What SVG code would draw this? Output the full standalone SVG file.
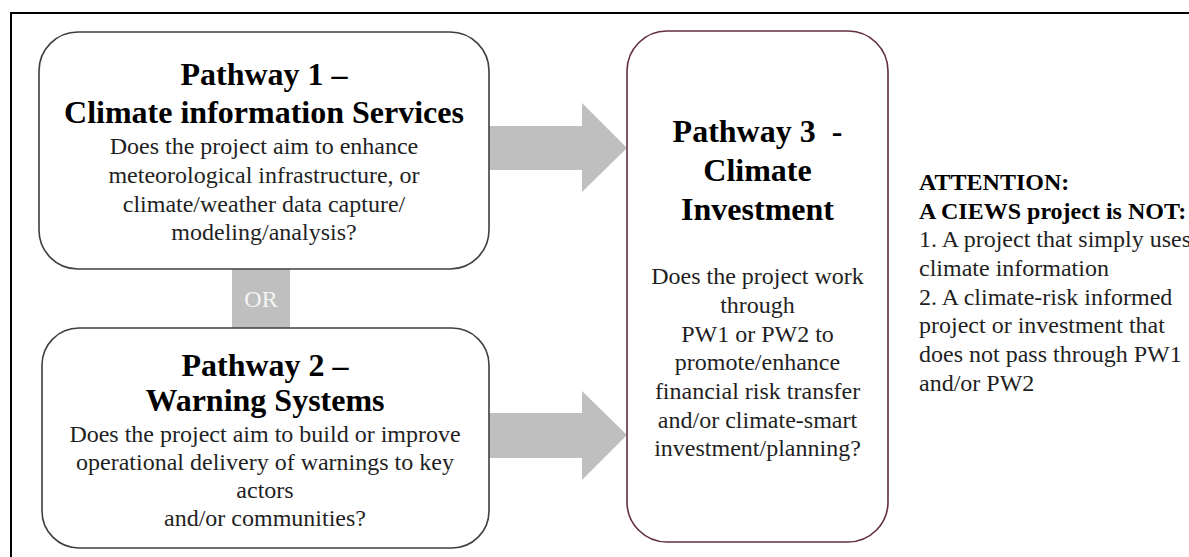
<svg xmlns="http://www.w3.org/2000/svg" width="1189" height="557" viewBox="0 0 1189 557">
<style>
.frame{fill:none;stroke:#000;stroke-width:2}
.box{fill:#fff;stroke:#3f3f3f;stroke-width:1.6}
.box3{fill:#fff;stroke:#632f40;stroke-width:1.6}
.conn{fill:#bfbfbf;stroke:none}
text{font-family:"Liberation Serif","Times New Roman",serif;font-size:24px;fill:#1f1f1f}
.t{font-size:32px;font-weight:bold;fill:#000}
.c{text-anchor:middle}
.b{font-weight:bold;fill:#000}
.or{fill:#f4f4f4;text-anchor:middle}
</style>
<rect class="frame" x="11" y="13" width="1200" height="600"/>
<g id="connectors">
<rect class="conn" x="232" y="266" width="58" height="64"/>
<text class="or" x="261" y="307">OR</text>
<polygon class="conn" points="489,126 582,126 582,103 627,148 582,192 582,170 489,170"/>
<polygon class="conn" points="489,413 582,413 582,391 627,435 582,480 582,458 489,458"/>
</g>
<g id="pathway1">
<rect class="box" x="39" y="32" width="450" height="237" rx="39" ry="39"/>
<text class="t c" x="264" y="84.5">Pathway 1 –</text>
<text class="t c" x="264" y="123">Climate information Services</text>
<text class="c" x="264" y="154">Does the project aim to enhance</text>
<text class="c" x="264" y="183">meteorological infrastructure, or</text>
<text class="c" x="264" y="212">climate/weather data capture/</text>
<text class="c" x="264" y="240">modeling/analysis?</text>
</g>
<g id="pathway2">
<rect class="box" x="42" y="328" width="447" height="220" rx="37" ry="37"/>
<text class="t c" x="265" y="376">Pathway 2 –</text>
<text class="t c" x="265" y="410.5">Warning Systems</text>
<text class="c" x="265" y="442">Does the project aim to build or improve</text>
<text class="c" x="265" y="469.5">operational delivery of warnings to key</text>
<text class="c" x="265" y="498">actors</text>
<text class="c" x="265" y="526">and/or communities?</text>
</g>
<g id="pathway3">
<rect class="box3" x="627" y="31" width="261" height="511" rx="40" ry="40"/>
<text class="t c" x="757.5" y="142" style="white-space:pre">Pathway 3  -</text>
<text class="t c" x="757.5" y="181">Climate</text>
<text class="t c" x="757.5" y="220">Investment</text>
<text class="c" x="757.5" y="284">Does the project work</text>
<text class="c" x="757.5" y="312.5">through</text>
<text class="c" x="757.5" y="341.5">PW1 or PW2 to</text>
<text class="c" x="757.5" y="370">promote/enhance</text>
<text class="c" x="757.5" y="399">financial risk transfer</text>
<text class="c" x="757.5" y="427.5">and/or climate-smart</text>
<text class="c" x="757.5" y="456">investment/planning?</text>
</g>
<g id="attention">
<text class="b" x="919" y="190">ATTENTION:</text>
<text class="b" x="919" y="218.5">A CIEWS project is NOT:</text>
<text x="919" y="247">1. A project that simply uses</text>
<text x="919" y="276">climate information</text>
<text x="919" y="304.5">2. A climate-risk informed</text>
<text x="919" y="333">project or investment that</text>
<text x="919" y="362">does not pass through PW1</text>
<text x="919" y="390.5">and/or PW2</text>
</g>
</svg>
